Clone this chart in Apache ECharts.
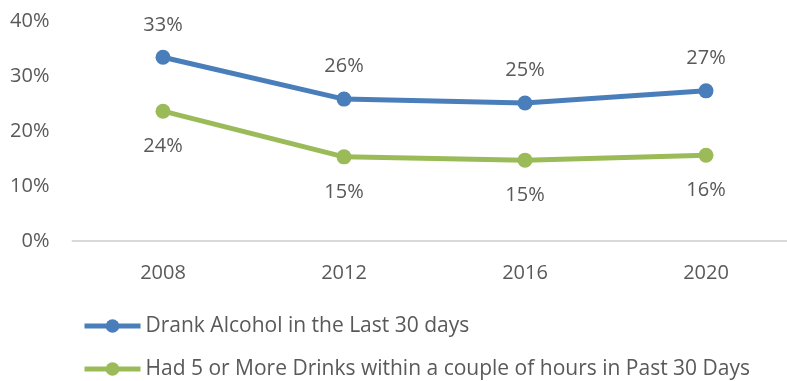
<!DOCTYPE html>
<html>
<head>
<meta charset="utf-8">
<script src="https://cdn.jsdelivr.net/npm/echarts@6/dist/echarts.min.js"></script>
<style>
  html, body { margin: 0; padding: 0; background: #fff; }
  #chart { width: 787px; height: 381px; }
</style>
</head>
<body>
<div id="chart"></div>
<script>
// Survey years and percentages of respondents
const years = ['2008', '2012', '2016', '2020'];
const drankAlcohol = [33.4, 25.8, 25.1, 27.3];
const bingeDrinking = [23.6, 15.3, 14.7, 15.6];
const seriesNames = [
  'Drank Alcohol in the Last 30 days',
  'Had 5 or More Drinks within a couple of hours in Past 30 Days'
];
const yTicks = [0, 10, 20, 30, 40];

const textColor = '#595959';
const fontFamily = '"Open Sans", "Liberation Sans", sans-serif';
const blue = '#4a7ebb';
const green = '#9bbb59';

const chart = echarts.init(document.getElementById('chart'), null, { renderer: 'canvas' });

function makeSeries(name, data, color, labelPos, dist) {
  return {
    name: name,
    type: 'line',
    data: data,
    symbol: 'circle',
    symbolSize: 15,
    lineStyle: { color: color, width: 5 },
    itemStyle: { color: color },
    label: {
      show: true,
      position: labelPos,
      distance: dist,
      color: textColor,
      fontSize: 20,
      fontFamily: fontFamily,
      formatter: p => Math.round(p.value) + '%'
    }
  };
}

// One legend row per series, stacked under the plot
function makeLegend(name, top) {
  return {
    orient: 'vertical',
    left: 82,
    top: top,
    padding: 0,
    itemWidth: 56,
    itemHeight: 17,
    lineStyle: { width: 5 },
    textStyle: { color: textColor, fontSize: 21, fontFamily: fontFamily, lineHeight: 24 },
    data: [name]
  };
}

chart.setOption({
  animation: false,
  grid: { left: 72.5, width: 724, top: 21, height: 220, containLabel: false, outerBoundsMode: 'none' },
  xAxis: {
    type: 'category',
    data: years,
    boundaryGap: true,
    axisLine: { show: true, lineStyle: { color: '#d9d9d9', width: 2 } },
    axisTick: { show: false },
    axisLabel: { color: textColor, fontSize: 20, fontFamily: fontFamily, margin: 22 }
  },
  yAxis: {
    type: 'value',
    min: yTicks[0],
    max: yTicks[yTicks.length - 1],
    interval: 10,
    splitLine: { show: false },
    axisLine: { show: false },
    axisTick: { show: false },
    axisLabel: {
      color: textColor, fontSize: 20, fontFamily: fontFamily, margin: 23,
      formatter: v => v + '%'
    }
  },
  legend: [
    makeLegend(seriesNames[0], 314),
    makeLegend(seriesNames[1], 357)
  ],
  series: [
    makeSeries(seriesNames[0], drankAlcohol, blue, 'top', 15),
    makeSeries(seriesNames[1], bingeDrinking, green, 'bottom', 18)
  ]
});
</script>
</body>
</html>
